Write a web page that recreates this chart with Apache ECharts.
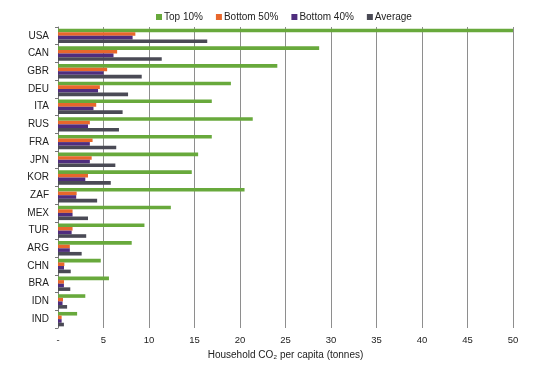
<!DOCTYPE html>
<html>
<head>
<meta charset="utf-8">
<script src="https://cdn.jsdelivr.net/npm/echarts@6/dist/echarts.min.js"></script>
<style>html,body{margin:0;padding:0;background:#fff}#c{width:553px;height:369px}</style>
</head>
<body>
<div id="c"></div>
<script>
const countries = ["USA","CAN","GBR","DEU","ITA","RUS","FRA","JPN","KOR","ZAF","MEX","TUR","ARG","CHN","BRA","IDN","IND"];
const top10 =    [50.0, 28.7, 24.1, 19.0, 16.9, 21.4, 16.9, 15.4, 14.7, 20.5, 12.4, 9.5, 8.1, 4.7, 5.6, 3.0, 2.1];
const bottom50 = [8.5, 6.5, 5.4, 4.6, 4.2, 3.5, 3.8, 3.7, 3.3, 2.05, 1.6, 1.6, 1.3, 0.7, 0.66, 0.55, 0.4];
const bottom40 = [8.2, 6.1, 5.0, 4.4, 3.9, 3.3, 3.5, 3.5, 3.0, 2.0, 1.6, 1.5, 1.3, 0.66, 0.65, 0.5, 0.4];
const average =  [16.4, 11.4, 9.2, 7.7, 7.1, 6.7, 6.4, 6.3, 5.8, 4.3, 3.3, 3.1, 2.6, 1.4, 1.35, 1.0, 0.65];
const xTicks = ["-", "5", "10", "15", "20", "25", "30", "35", "40", "45", "50"];

const chart = echarts.init(document.getElementById('c'));
const font = 'Liberation Sans, Arial, sans-serif';
function bar(name, data, color) {
  return { name, type: 'bar', data, barWidth: 3.6, barGap: '0%', itemStyle: { color }, animation: false };
}
chart.setOption({
  animation: false,
  textStyle: { fontFamily: font },
  legend: {
    top: 7, left: 151, itemWidth: 6, itemHeight: 6, itemGap: 13, icon: 'rect',
    textStyle: { fontFamily: font, fontSize: 10, color: '#222', padding: [0,0,0,-3] }
  },
  grid: { left: 58, right: 40, top: 27, bottom: 41 },
  xAxis: {
    type: 'value', min: 0, max: 50, interval: 5,
    name: 'Household CO₂ per capita (tonnes)', nameLocation: 'middle', nameGap: 21,
    nameTextStyle: { fontFamily: font, fontSize: 10, color: '#222' },
    axisLine: { show: false }, axisTick: { show: false },
    axisLabel: { fontFamily: font, fontSize: 9.5, color: '#222', margin: 7,
      formatter: v => xTicks[Math.round(v / 5)] },
    splitLine: { show: true, lineStyle: { color: '#8e8e8e', width: 1 } }
  },
  yAxis: {
    type: 'category', data: countries, inverse: true,
    axisLine: { show: true, lineStyle: { color: '#777' } },
    axisTick: { show: true, length: 3, lineStyle: { color: '#777' } },
    axisLabel: { fontFamily: font, fontSize: 10, color: '#222', margin: 9 }
  },
  series: [
    bar('Top 10%', top10, '#68a93c'),
    bar('Bottom 50%', bottom50, '#e8672c'),
    bar('Bottom 40%', bottom40, '#4f2d7e'),
    bar('Average', average, '#4a4a55')
  ]
});
</script>
</body>
</html>
